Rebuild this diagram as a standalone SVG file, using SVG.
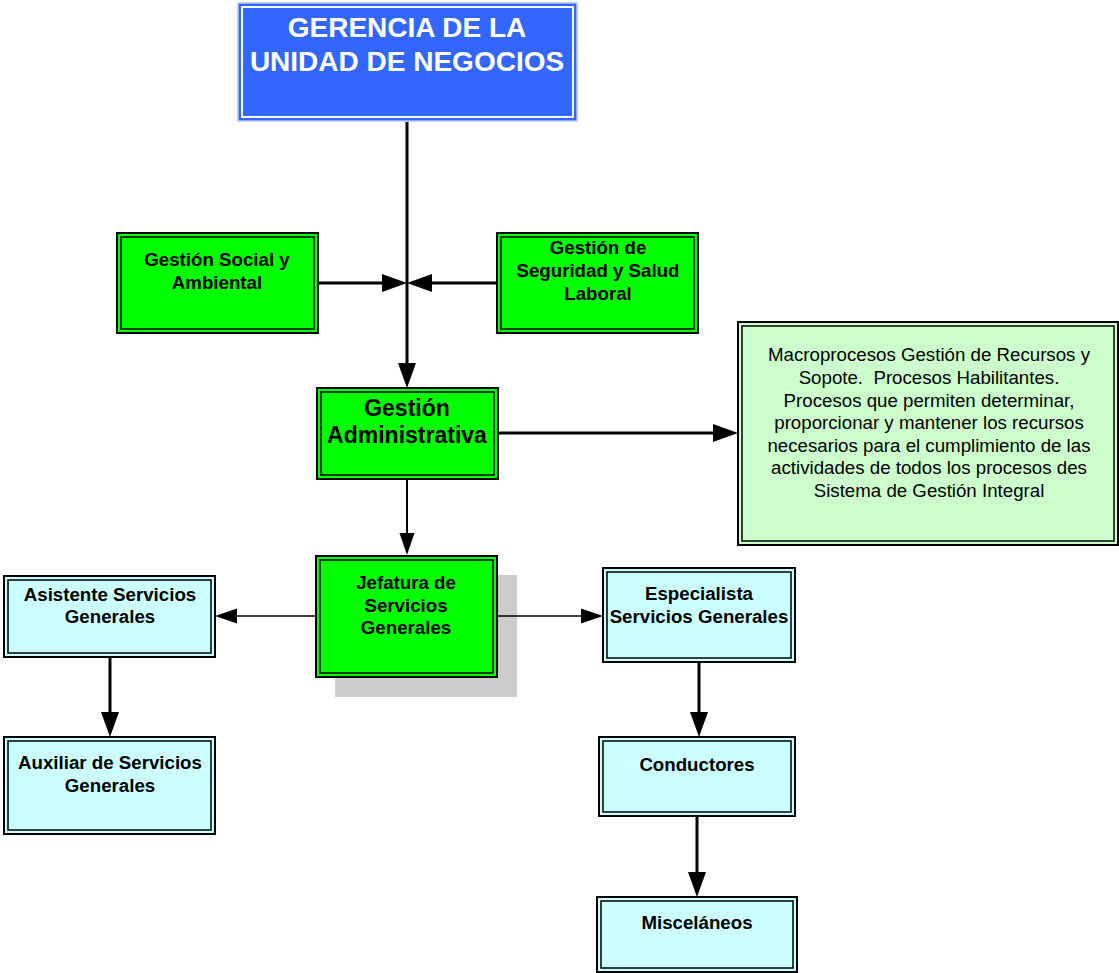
<svg xmlns="http://www.w3.org/2000/svg" width="1119" height="973" viewBox="0 0 1119 973">
<style>
text{font-family:"Liberation Sans",Arial,sans-serif;text-anchor:middle;fill:#000}
.b{font-weight:bold;font-size:18.7px}
.big{font-weight:bold;font-size:23px}
.top{font-weight:bold;font-size:28px;fill:#fff}
.reg{font-size:18.7px}
.green{fill:#00FF00;stroke:#000;stroke-width:2}
.cyan{fill:#CCFFFF;stroke:#000;stroke-width:2}
.pale{fill:#CCFFCC;stroke:#000;stroke-width:2}
.in{fill:none;stroke:#000;stroke-width:1.5}
.thick{stroke:#000;stroke-width:3;fill:none}
.mid{stroke:#000;stroke-width:2;fill:none}
.thin{stroke:#000;stroke-width:1.5;fill:none}
</style>
<defs>
<marker id="ab" markerUnits="userSpaceOnUse" markerWidth="26" markerHeight="18" refX="0" refY="9" orient="auto" overflow="visible"><path d="M0,0 L25,9 L0,18 z" fill="#000"/></marker>
<marker id="as" markerUnits="userSpaceOnUse" markerWidth="22" markerHeight="15" refX="0" refY="7.5" orient="auto" overflow="visible"><path d="M0,0 L22,7.5 L0,15 z" fill="#000"/></marker>
</defs>
<rect x="0" y="0" width="1119" height="973" fill="#fff"/>
<g id="gerencia">
<rect x="238" y="3" width="339" height="118" fill="#3366FF" stroke="#B3C6FF" stroke-width="1.5"/>
<rect x="242" y="7" width="331" height="110" fill="none" stroke="#fff" stroke-width="2"/>
<text class="top" x="407" y="37">GERENCIA DE LA</text>
<text class="top" x="407" y="71">UNIDAD DE NEGOCIOS</text>
</g>
<g id="social">
<rect class="green" x="117" y="233" width="201" height="100"/>
<rect class="in" x="121" y="237" width="193" height="92"/>
<text class="b" x="217" y="266">Gestión Social y</text>
<text class="b" x="217" y="289">Ambiental</text>
</g>
<g id="seguridad">
<rect class="green" x="497" y="233" width="201" height="100"/>
<rect class="in" x="501" y="237" width="193" height="92"/>
<text class="b" x="598" y="254">Gestión de</text>
<text class="b" x="598" y="277">Seguridad y Salud</text>
<text class="b" x="598" y="300">Laboral</text>
</g>
<g id="administrativa">
<rect class="green" x="317" y="388" width="181" height="91"/>
<rect class="in" x="321" y="392" width="173" height="83"/>
<text class="big" x="407" y="416">Gestión</text>
<text class="big" x="407" y="443">Administrativa</text>
</g>
<g id="macroprocesos">
<rect class="pale" x="738" y="322" width="380" height="223"/>
<rect class="in" x="742" y="326" width="372" height="215"/>
<text class="reg" x="929" y="361">Macroprocesos Gestión de Recursos y</text>
<text class="reg" x="929" y="384">Sopote.&#160; Procesos Habilitantes.</text>
<text class="reg" x="929" y="407">Procesos que permiten determinar,</text>
<text class="reg" x="929" y="429">proporcionar y mantener los recursos</text>
<text class="reg" x="929" y="452">necesarios para el cumplimiento de las</text>
<text class="reg" x="929" y="474">actividades de todos los procesos des</text>
<text class="reg" x="929" y="497">Sistema de Gestión Integral</text>
</g>
<g id="jefatura">
<rect x="335" y="575" width="182" height="122" fill="#CCCCCC"/>
<rect class="green" x="316" y="556" width="181" height="121"/>
<rect class="in" x="320" y="560" width="173" height="113"/>
<text class="b" x="406" y="589">Jefatura de</text>
<text class="b" x="406" y="612">Servicios</text>
<text class="b" x="406" y="634">Generales</text>
</g>
<g id="asistente">
<rect class="cyan" x="4" y="576" width="211" height="81"/>
<rect class="in" x="8" y="580" width="203" height="73"/>
<text class="b" x="110" y="601">Asistente Servicios</text>
<text class="b" x="110" y="623">Generales</text>
</g>
<g id="especialista">
<rect class="cyan" x="603" y="568" width="192" height="94"/>
<rect class="in" x="607" y="572" width="184" height="86"/>
<text class="b" x="699" y="600">Especialista</text>
<text class="b" x="699" y="623">Servicios Generales</text>
</g>
<g id="auxiliar">
<rect class="cyan" x="4" y="737" width="211" height="97"/>
<rect class="in" x="8" y="741" width="203" height="89"/>
<text class="b" x="110" y="769">Auxiliar de Servicios</text>
<text class="b" x="110" y="792">Generales</text>
</g>
<g id="conductores">
<rect class="cyan" x="599" y="737" width="196" height="79"/>
<rect class="in" x="603" y="741" width="188" height="71"/>
<text class="b" x="697" y="771">Conductores</text>
</g>
<g id="miscelaneos">
<rect class="cyan" x="597" y="897" width="200" height="75"/>
<rect class="in" x="601" y="901" width="192" height="67"/>
<text class="b" x="697" y="929">Misceláneos</text>
</g>
<g id="connectors">
<line class="thick" x1="407" y1="122" x2="407" y2="363" marker-end="url(#ab)"/>
<line class="thick" x1="319" y1="283" x2="382" y2="283" marker-end="url(#ab)"/>
<line class="thick" x1="496" y1="283" x2="432" y2="283" marker-end="url(#ab)"/>
<line class="thick" x1="499" y1="433" x2="713" y2="433" marker-end="url(#ab)"/>
<line class="mid" x1="407" y1="480" x2="407" y2="533" marker-end="url(#as)"/>
<line class="thin" x1="315" y1="616" x2="237" y2="616" marker-end="url(#as)"/>
<line class="thin" x1="498" y1="616" x2="581" y2="616" marker-end="url(#as)"/>
<line class="thick" x1="110" y1="658" x2="110" y2="712" marker-end="url(#ab)"/>
<line class="thick" x1="699" y1="663" x2="699" y2="712" marker-end="url(#ab)"/>
<line class="thick" x1="697" y1="817" x2="697" y2="872" marker-end="url(#ab)"/>
</g>
</svg>
